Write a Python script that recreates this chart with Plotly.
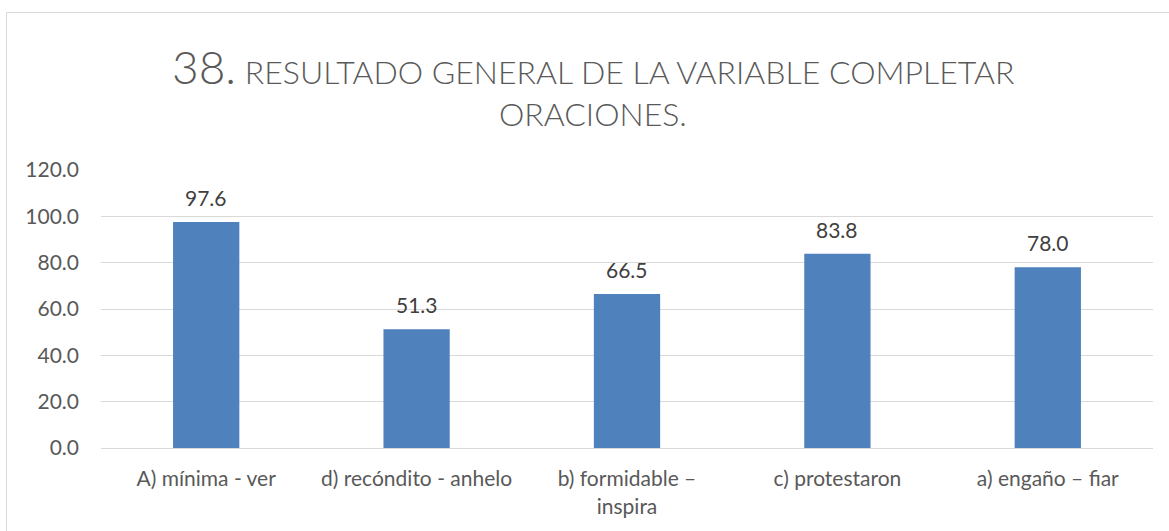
import plotly.graph_objects as go

categories = ["A) mínima - ver", "d) recóndito - anhelo", "b) formidable –<br>inspira",
              "c) protestaron", "a) engaño – fiar"]
values = [97.6, 51.3, 66.5, 83.8, 78.0]
y_ticks = [0, 20, 40, 60, 80, 100, 120]
y_tick_labels = ["0.0", "20.0", "40.0", "60.0", "80.0", "100.0", "120.0"]

W, H = 1169, 531
L, R, T, B = 101, 16, 170, 83
plot_w = W - L - R
plot_h = H - T - B

FONT = "Lato"
GREY = "#595959"

fig = go.Figure(go.Bar(
    x=categories, y=values,
    marker=dict(color="#4F81BD", line=dict(width=0)),
    width=0.315,
))

# value labels above each bar
for c, v in zip(categories, values):
    fig.add_annotation(x=c, y=v, text=f"{v:.1f}", showarrow=False,
                       yanchor="bottom", yshift=10,
                       font=dict(family=FONT, size=21, color="#404040"))

def px_x(px):
    return (px - L) / plot_w

def px_y(py):
    return (H - B - py) / plot_h

# chart frame
fig.add_shape(type="rect", xref="paper", yref="paper",
              x0=px_x(6.5), x1=px_x(1190), y0=px_y(545), y1=px_y(12.5),
              line=dict(color="#D9D9D9", width=1), fillcolor="rgba(0,0,0,0)",
              layer="below")

# title
fig.add_annotation(xref="paper", yref="paper", x=px_x(593), y=px_y(66),
                   text="<span style='font-size:46px'>38.</span> RESULTADO GENERAL DE LA VARIABLE COMPLETAR",
                   showarrow=False, xanchor="center", yanchor="middle",
                   font=dict(family=FONT, size=32, color=GREY, weight=300))
fig.add_annotation(xref="paper", yref="paper", x=px_x(593), y=px_y(114),
                   text="ORACIONES.", showarrow=False, xanchor="center", yanchor="middle",
                   font=dict(family=FONT, size=32, color=GREY, weight=300))

fig.update_layout(
    width=W, height=H,
    margin=dict(l=L, r=R, t=T, b=B),
    paper_bgcolor="white", plot_bgcolor="white",
    showlegend=False,
)
fig.update_yaxes(range=[0, 120], tickvals=y_ticks, ticktext=y_tick_labels,
                 showgrid=True, gridcolor="#D9D9D9", gridwidth=1,
                 zeroline=False, showline=False, ticks="",
                 ticklabelstandoff=21,
                 tickfont=dict(family=FONT, size=21, color=GREY))
fig.update_xaxes(showgrid=False, showline=True, linecolor="#D9D9D9", linewidth=1,
                 ticks="", ticklabelstandoff=12,
                 tickfont=dict(family=FONT, size=21, color=GREY))

fig.write_html("out.html")
